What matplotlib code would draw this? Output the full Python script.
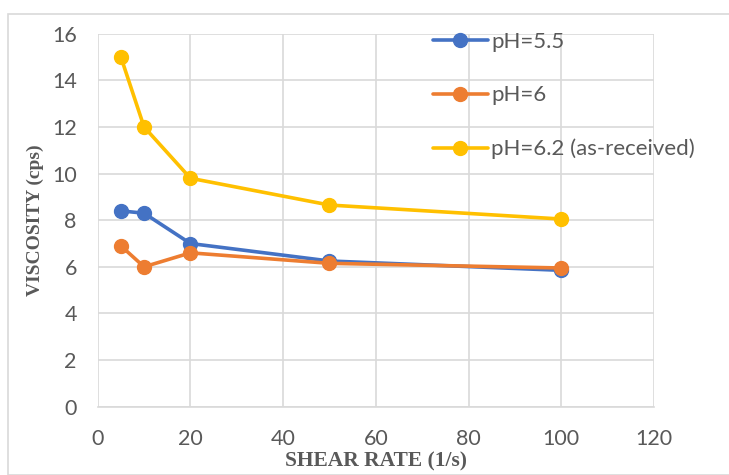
import matplotlib
matplotlib.use("Agg")
import matplotlib.pyplot as plt
from matplotlib.patches import Rectangle

shear_rate = [5, 10, 20, 50, 100]
visc_ph55 = [8.4, 8.3, 7.0, 6.25, 5.85]
visc_ph6 = [6.9, 6.0, 6.6, 6.15, 5.95]
visc_ph62 = [15.0, 12.0, 9.8, 8.65, 8.05]
labels = ["pH=5.5", "pH=6", "pH=6.2 (as-received)"]
colors = ["#4472C4", "#ED7D31", "#FFC000"]

fig = plt.figure(figsize=(7.29, 4.75), dpi=100)
ax = fig.add_axes([97.7 / 729, 1 - 406.7 / 475, (654 - 97.7) / 729, (406.7 - 33.7) / 475])

for y, lab, c in zip([visc_ph55, visc_ph6, visc_ph62], labels, colors):
    ax.plot(shear_rate, y, color=c, lw=2.6, marker="o", ms=10, label=lab,
            solid_capstyle="round", zorder=3)

ax.set_xlim(0, 120)
ax.set_ylim(0, 16)
ax.set_xticks(range(0, 121, 20))
ax.set_yticks(range(0, 17, 2))
ax.grid(True, color="#d9d9d9", lw=1.2)
ax.set_axisbelow(True)
for s in ["top", "right", "left"]:
    ax.spines[s].set_visible(False)
ax.spines["bottom"].set_color("#d9d9d9")
ax.spines["bottom"].set_linewidth(1.2)
ax.tick_params(length=0, labelsize=15.5, labelcolor="#595959")
ax.tick_params(axis="x", pad=16)
ax.tick_params(axis="y", pad=15)
for t in ax.get_xticklabels() + ax.get_yticklabels():
    t.set_family("Lato")

ax.set_xlabel("SHEAR RATE (1/s)", family="Liberation Serif", fontweight="bold",
              fontsize=15.5, color="#595959", labelpad=2)
ax.set_ylabel("VISCOSITY (cps)", family="Liberation Serif", fontweight="bold",
              fontsize=14, color="#595959", labelpad=6)

leg = ax.legend(loc="upper left", bbox_to_anchor=(0.567, 1.058), frameon=False,
                labelspacing=1.5, handlelength=2.45, handletextpad=0.15,
                prop={"family": "Lato", "size": 16})
for t in leg.get_texts():
    t.set_color("#595959")

fig.patches.append(Rectangle((8 / 729, 0), 1.0, 1 - 14 / 475, transform=fig.transFigure,
                             fill=False, edgecolor="#d9d9d9", lw=1.2))

fig.savefig("out.png", dpi=100)
